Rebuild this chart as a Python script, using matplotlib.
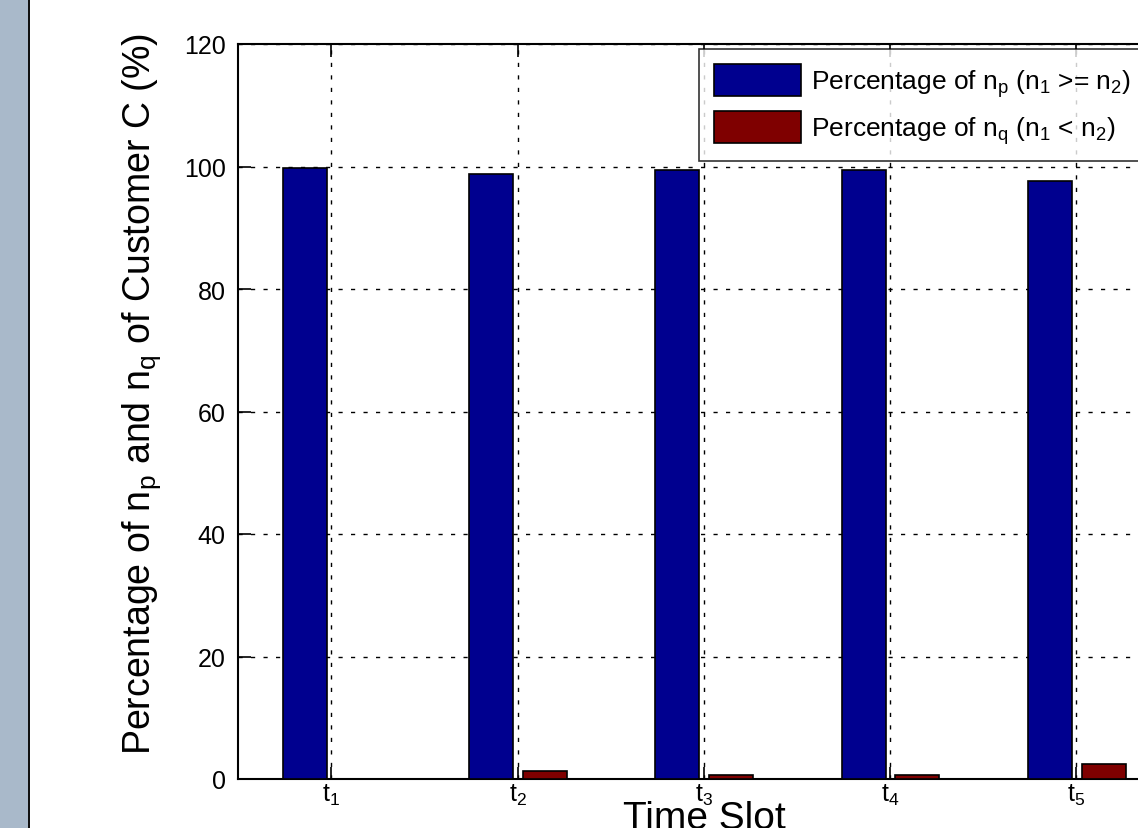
import matplotlib
matplotlib.use('Agg')
import matplotlib.pyplot as plt
from matplotlib import rcParams
from matplotlib.patches import Rectangle
import numpy as np

config = {
    "font.family": ['Liberation Sans', 'DejaVu Sans'],
    "mathtext.fontset": 'custom',
    "mathtext.rm": 'Liberation Sans',
    "mathtext.it": 'Liberation Sans',
    "mathtext.default": 'regular',
}
rcParams.update(config)

# data
slots = ['$t_1$', '$t_2$', '$t_3$', '$t_4$', '$t_5$']
pct_np = [99.8, 98.8, 99.5, 99.5, 97.7]
pct_nq = [0.0, 1.3, 0.6, 0.6, 2.4]
labels = ['Percentage of n$_p$ (n$_1$ >= n$_2$)',
          'Percentage of n$_q$ (n$_1$ < n$_2$)']
yticks = [0, 20, 40, 60, 80, 100, 120]

W, H = 1138, 829
fig = plt.figure(figsize=(W / 100, H / 100), dpi=100)

# grey strip on the left of the page
fig.patches.append(Rectangle((0, 0), 28 / W, 1, transform=fig.transFigure,
                             facecolor='#a9b9ca', edgecolor='none', zorder=0))
fig.patches.append(Rectangle((28 / W, 0), 2 / W, 1, transform=fig.transFigure,
                             facecolor='#111111', edgecolor='none', zorder=0))

x0, x1 = 238.3, 1169.5
yb, yt = 780, 45
ax = fig.add_axes([x0 / W, 1 - yb / H, (x1 - x0) / W, (yb - yt) / H])

x = np.arange(1, 6)
bw = 0.236
ax.bar(x - 0.142, pct_np, bw, color='#00008f', edgecolor='black', linewidth=1.2,
       label=labels[0], zorder=3)
ax.bar(x + 0.146, pct_nq, bw, color='#7f0000', edgecolor='black', linewidth=1.2,
       label=labels[1], zorder=3)

ax.set_xlim(0.5, 5.5)
ax.set_ylim(0, 120)
ax.set_xticks(x)
ax.set_xticklabels(slots, fontsize=18)
ax.set_yticks(yticks)
ax.set_yticklabels([str(v) for v in yticks], fontsize=18)

ax.grid(True, color='black', linestyle=(0, (3, 6)), linewidth=1.0, zorder=1)
ax.tick_params(axis='both', direction='in', length=9, width=1.2,
               top=True, right=True)
ax.tick_params(axis='x', pad=2)
ax.tick_params(axis='y', pad=9)
for s in ax.spines.values():
    s.set_linewidth(1.5)

ax.set_xlabel('Time Slot', fontsize=28)
ax.xaxis.set_label_coords(0.5, -0.028)
fig.text(150 / W, 1 - 394.5 / H,
         'Percentage of n$_p$ and n$_q$ of Customer C (%)',
         fontsize=27, rotation=90, rotation_mode='anchor',
         ha='center', va='baseline')

leg = ax.legend(loc='upper left', bbox_to_anchor=(699 / W, 1 - 50 / H),
                bbox_transform=fig.transFigure, fontsize=19, frameon=True,
                fancybox=False, handlelength=3.3, handleheight=1.48,
                handletextpad=0.38, labelspacing=0.45, borderpad=0.58,
                borderaxespad=0)
leg.get_frame().set_edgecolor('black')
leg.get_frame().set_linewidth(1.2)

plt.savefig('out.png', dpi=100)
